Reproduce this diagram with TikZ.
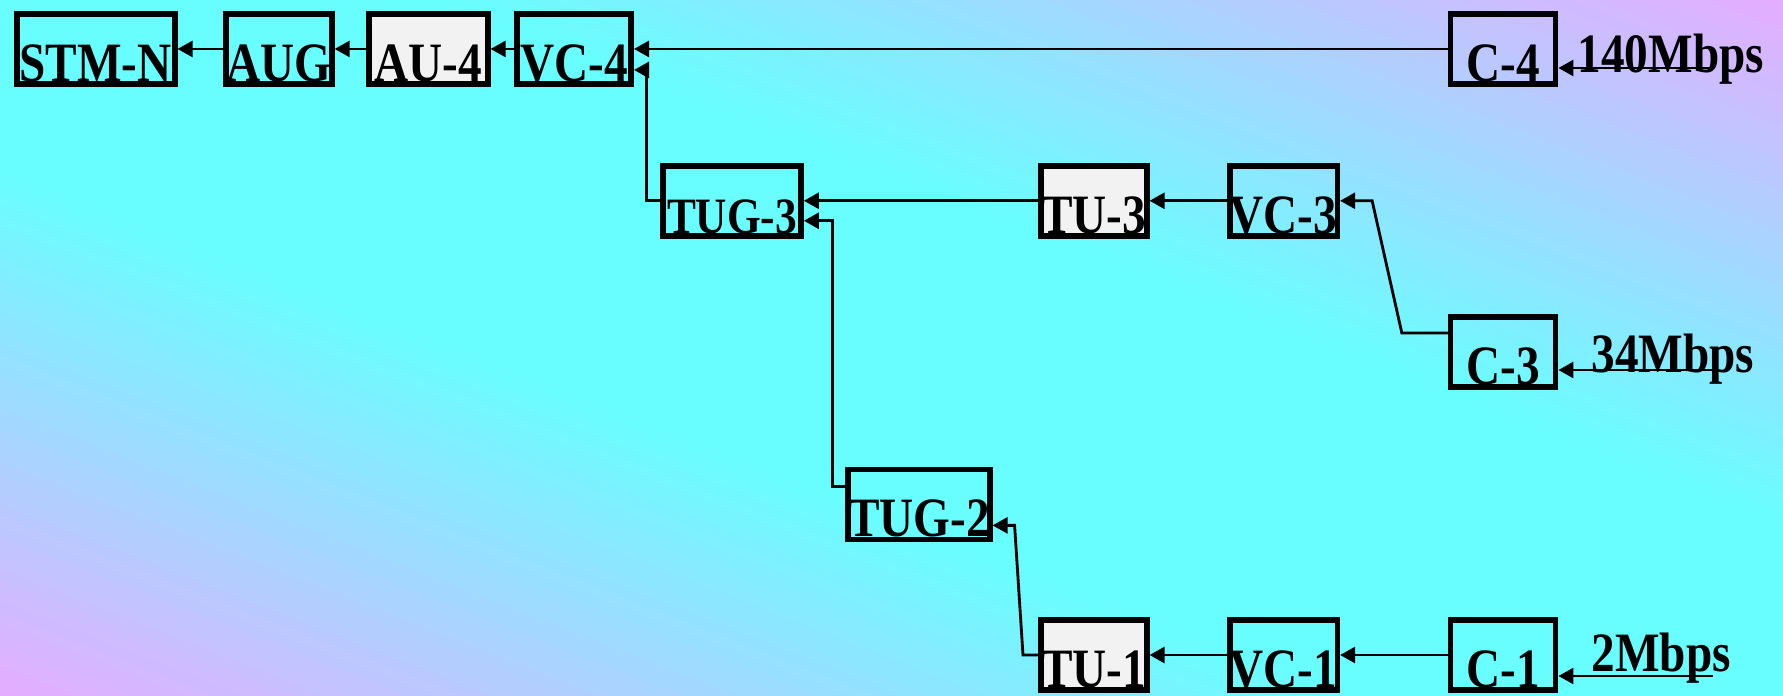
\documentclass[tikz,border=0pt]{standalone}
\usepackage{fontspec}
\setmainfont{Liberation Serif}[FakeStretch=0.85]
\usepackage{tikz}
\usetikzlibrary{arrows.meta,positioning}

\definecolor{bgcyan}{HTML}{68FEFF}
\definecolor{bgpink}{HTML}{E6ACFF}
\definecolor{boxgrey}{HTML}{F2F2F2}

\begin{document}
\begin{tikzpicture}[>={Triangle[length=1.5mm,width=1.6mm]},
  blk/.style={draw,line width=1.6pt,inner sep=0pt,minimum width=#1,minimum height=7.0mm,
    text height=6.5mm,text depth=0pt,font=\fontsize{15.8}{18}\selectfont\bfseries},
  blk/.default=1.06cm,
  rate/.style={inner sep=0pt,font=\fontsize{15.8}{18}\selectfont\bfseries},
  wire/.style={->,line width=0.8pt}]
\useasboundingbox (0,0) rectangle (17.83,6.95);
% background
\begin{scope}
\clip (0,0) rectangle (17.83,6.95);
\begin{scope}[shift={(8.915,3.475)},rotate=-21.29]
\foreach \y in {-6.7,-6.6,...,6.6}{
  \pgfmathsetmacro\mixp{min(100,max(0,(abs(\y+0.05)-1.6)/4.9*100))}
  \fill[bgpink!\mixp!bgcyan] (-10,\y) rectangle (10,\y+0.11);
}
\end{scope}
\end{scope}
% bottom row
\node[blk,fill=boxgrey] (tu1) at (10.938,0.40) {TU-1};
\node[blk,right=0.774cm of tu1] (vc1) {VC-1};
\node[blk=1.05cm,right=1.077cm of vc1] (c1) {C-1};
\node[blk=1.05cm,above=2.274cm of c1] (c3) {C-3};
\node[blk=1.05cm,above=2.274cm of c3] (c4) {C-4};
\node[blk,above=3.786cm of vc1] (vc3) {VC-3};
\node[blk,fill=boxgrey,left=0.774cm of vc3] (tu3) {TU-3};
\node[blk=1.38cm,left=2.341cm of tu3,font=\fontsize{14.5}{17}\selectfont\bfseries] (tug3) {TUG-3};
\node[blk=1.38cm,above left=0.75cm and 0.454cm of tu1] (tug2) {TUG-2};
% top row
\node[blk=1.14cm,left=8.138cm of c4] (vc4) {VC-4};
\node[blk=1.185cm,fill=boxgrey,left=0.238cm of vc4] (au4) {AU-4};
\node[blk,left=0.318cm of au4] (aug) {AUG};
\node[blk=1.58cm,left=0.455cm of aug] (stmn) {STM-N};
% rates
\node[rate,anchor=base west] (r140) at (15.77,6.22) {140Mbps};
\node[rate,anchor=base west] (r34) at (15.91,3.23) {34Mbps};
\node[rate,anchor=base west] (r2) at (15.91,0.24) {2Mbps};
\coordinate (in4) at (17.11,6.27);
\coordinate (in3) at (17.13,3.25);
\coordinate (in1) at (17.13,0.19);
% connectors
\draw[wire] (in4) -- (in4 -| c4.east);
\draw[wire] (in3) -- (in3 -| c3.east);
\draw[wire] (in1) -- (in1 -| c1.east);
\draw[wire] (c4) -- (vc4);
\draw[wire] (vc4) -- (au4);
\draw[wire] (au4) -- (aug);
\draw[wire] (aug) -- (stmn);
\draw[wire] (tug3.west) -- ++(-0.14,0) |- ([yshift=-0.21cm]vc4.east);
\draw[wire] (tu3) -- (tug3);
\draw[wire] (vc3) -- (tu3);
\draw[wire] ([yshift=0.19cm]c3.west) -- ++(-0.46,0) -- ([xshift=0.32cm]vc3.east) -- (vc3.east);
\draw[wire] ([yshift=0.18cm]tug2.west) -- ++(-0.13,0) |- ([yshift=-0.2cm]tug3.east);
\draw[wire] (tu1.west) -- ++(-0.15,0) -- ([xshift=0.22cm,yshift=-0.21cm]tug2.east) -- ([yshift=-0.21cm]tug2.east);
\draw[wire] (vc1) -- (tu1);
\draw[wire] (c1) -- (vc1);
\end{tikzpicture}
\end{document}
